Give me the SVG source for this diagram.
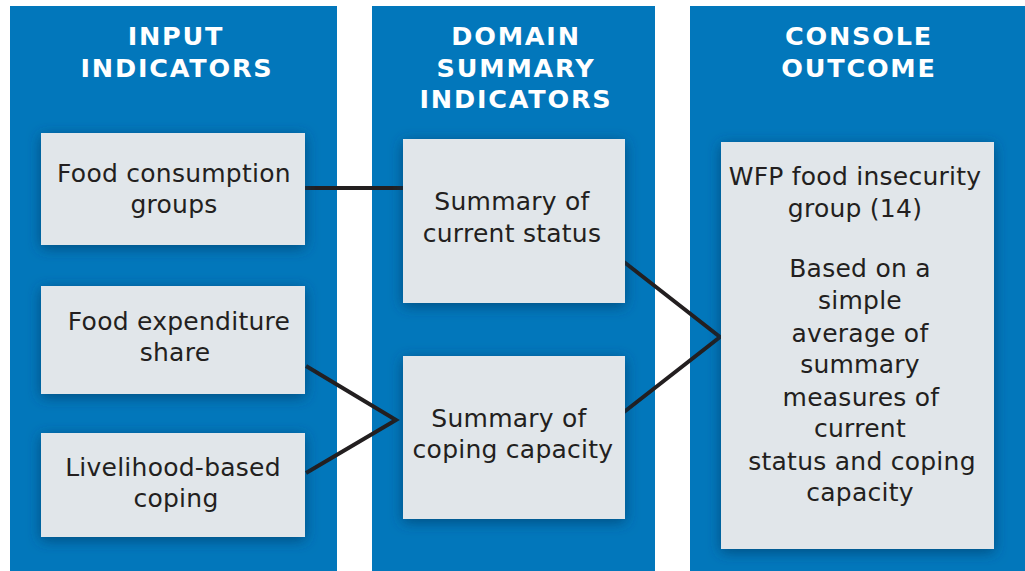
<svg xmlns="http://www.w3.org/2000/svg" width="1025" height="571" viewBox="0 0 1025 571">
<defs>
<filter id="sh" x="-20%" y="-20%" width="140%" height="140%">
<feDropShadow dx="0" dy="3" stdDeviation="7" flood-color="#003a66" flood-opacity="0.7"/>
</filter>
<style>
.col{fill:#0277bb}
.box{fill:#e1e6ea;filter:url(#sh)}
.hd{font-family:"DejaVu Sans",Verdana,sans-serif;font-weight:bold;font-size:25.5px;fill:#ffffff;text-anchor:middle;letter-spacing:1.8px}
.tx{font-family:"DejaVu Sans",Verdana,sans-serif;font-size:25px;fill:#231f20;text-anchor:middle;letter-spacing:0.25px}
.ln{stroke:#231f20;stroke-width:4;fill:none}
</style>
</defs>
<rect width="1025" height="571" fill="#ffffff"/>
<g id="columns">
<rect class="col" x="10" y="6" width="327" height="565"/>
<rect class="col" x="372" y="6" width="283" height="565"/>
<rect class="col" x="690" y="6" width="335" height="565"/>
</g>
<g id="headers">
<text class="hd" x="176" y="45">INPUT</text>
<text class="hd" x="177" y="77">INDICATORS</text>
<text class="hd" x="516" y="45">DOMAIN</text>
<text class="hd" x="516" y="77">SUMMARY</text>
<text class="hd" x="516" y="108">INDICATORS</text>
<text class="hd" x="859" y="45">CONSOLE</text>
<text class="hd" x="859" y="77">OUTCOME</text>
</g>
<g id="connectors">
<line class="ln" x1="305" y1="188" x2="404" y2="188"/>
<polyline class="ln" points="306,366 396,420 306,473"/>
<polyline class="ln" points="624,262 720,337 624,412"/>
</g>
<g id="node-food-consumption">
<rect class="box" x="41" y="133" width="264" height="112"/>
<text class="tx" x="174" y="182">Food consumption</text>
<text class="tx" x="174" y="213">groups</text>
</g>
<g id="node-food-expenditure">
<rect class="box" x="41" y="286" width="264" height="108"/>
<text class="tx" x="179" y="330">Food expenditure</text>
<text class="tx" x="175" y="361">share</text>
</g>
<g id="node-livelihood">
<rect class="box" x="41" y="433" width="264" height="104"/>
<text class="tx" x="173" y="476">Livelihood-based</text>
<text class="tx" x="176" y="507">coping</text>
</g>
<g id="node-current-status">
<rect class="box" x="403" y="139" width="222" height="164"/>
<text class="tx" x="512" y="210">Summary of</text>
<text class="tx" x="512" y="242">current status</text>
</g>
<g id="node-coping-capacity">
<rect class="box" x="403" y="356" width="222" height="163"/>
<text class="tx" x="509" y="427">Summary of</text>
<text class="tx" x="513" y="458">coping capacity</text>
</g>
<g id="node-outcome">
<rect class="box" x="721" y="142" width="273" height="407"/>
<text class="tx" x="855" y="185">WFP food insecurity</text>
<text class="tx" x="855" y="217">group (14)</text>
<text class="tx" x="860" y="277">Based on a</text>
<text class="tx" x="860" y="309">simple</text>
<text class="tx" x="860" y="342">average of</text>
<text class="tx" x="860" y="373">summary</text>
<text class="tx" x="861" y="406">measures of</text>
<text class="tx" x="860" y="437">current</text>
<text class="tx" x="862" y="470">status and coping</text>
<text class="tx" x="860" y="501">capacity</text>
</g>
</svg>
